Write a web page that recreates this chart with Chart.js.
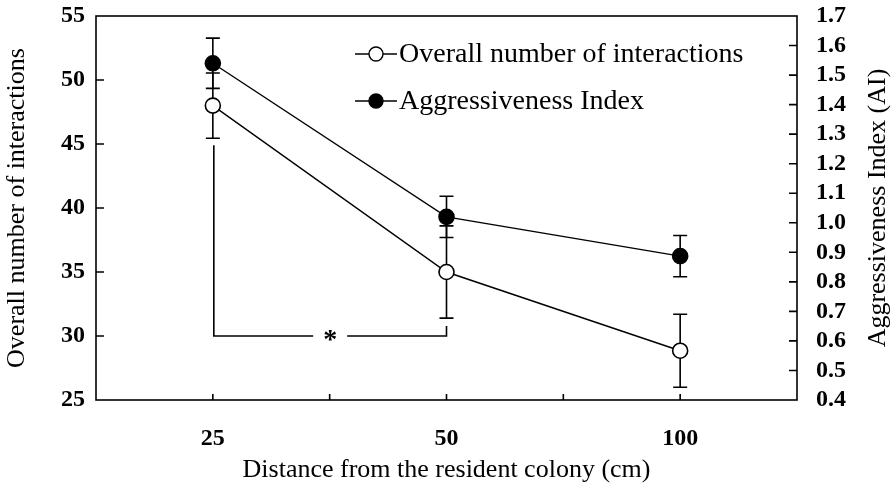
<!DOCTYPE html>
<html>
<head>
<meta charset="utf-8">
<script src="https://cdn.jsdelivr.net/npm/chart.js@4"></script>
<style>
  body { margin: 0; background: #fff; }
  #wrap { width: 896px; height: 487px; }
</style>
</head>
<body>
<div id="wrap"><canvas id="chart"></canvas></div>
<script>
// distance categories (cm)
const categories = ['25', '50', '100'];
// overall number of interactions (left axis), mean and error
const interactions = [48.0, 35.0, 28.85];
const interactionsErr = [2.55, 3.6, 2.85];
// aggressiveness index (right axis), mean and error
const aggression = [1.54, 1.02, 0.887];
const aggressionErr = [0.085, 0.07, 0.07];
// axis ranges
const leftRange = [25, 55, 5];
const rightRange = [0.4, 1.7, 0.1];
// significance bracket between 25 and 50, at this left-axis level
const sigPair = [0, 1];
const sigLevel = 30.0;
const sigLabel = '*';

const FONT = '"Liberation Serif", "Times New Roman", serif';

// category i sits at x = 2i+1 on a 0..6 axis
const toPoints = vals => vals.map((v, i) => ({ x: 2 * i + 1, y: v }));

const decor = {
  id: 'decor',
  beforeDatasetsDraw(chart) {
    const ctx = chart.ctx;
    const x = chart.scales.x;
    const sets = [
      [chart.scales.yL, interactions, interactionsErr],
      [chart.scales.yR, aggression, aggressionErr]
    ];
    ctx.save();
    ctx.strokeStyle = '#000';
    ctx.lineWidth = 1.6;
    sets.forEach(([ys, vals, errs]) => {
      vals.forEach((v, i) => {
        const px = x.getPixelForValue(2 * i + 1);
        const top = ys.getPixelForValue(v + errs[i]);
        const bot = ys.getPixelForValue(v - errs[i]);
        ctx.beginPath();
        ctx.moveTo(px, top); ctx.lineTo(px, bot);
        ctx.moveTo(px - 7, top); ctx.lineTo(px + 7, top);
        ctx.moveTo(px - 7, bot); ctx.lineTo(px + 7, bot);
        ctx.stroke();
      });
    });
    ctx.restore();
  },
  afterDatasetsDraw(chart) {
    const ctx = chart.ctx;
    const a = chart.chartArea;
    const x = chart.scales.x, yL = chart.scales.yL, yR = chart.scales.yR;
    ctx.save();
    ctx.strokeStyle = '#000';
    ctx.lineWidth = 1.6;
    // frame
    ctx.strokeRect(a.left, a.top, a.right - a.left, a.bottom - a.top);
    // inside tick marks
    ctx.beginPath();
    x.ticks.forEach(t => {
      if (t.value <= x.min || t.value >= x.max) return;
      const px = x.getPixelForValue(t.value);
      ctx.moveTo(px, a.bottom); ctx.lineTo(px, a.bottom - 6);
    });
    yL.ticks.forEach(t => {
      if (t.value <= yL.min || t.value >= yL.max) return;
      const py = yL.getPixelForValue(t.value);
      ctx.moveTo(a.left, py); ctx.lineTo(a.left + 8, py);
    });
    yR.ticks.forEach(t => {
      if (t.value <= yR.min + 1e-9 || t.value >= yR.max - 1e-9) return;
      const py = yR.getPixelForValue(t.value);
      ctx.moveTo(a.right, py); ctx.lineTo(a.right - 8, py);
    });
    ctx.stroke();

    // significance bracket
    const x1 = x.getPixelForValue(2 * sigPair[0] + 1) + 1;
    const x2 = x.getPixelForValue(2 * sigPair[1] + 1);
    const yb = yL.getPixelForValue(sigLevel);
    const y1 = yL.getPixelForValue(interactions[sigPair[0]] - interactionsErr[sigPair[0]]) + 7;
    const y2 = yL.getPixelForValue(interactions[sigPair[1]] - interactionsErr[sigPair[1]]) + 8;
    const xm = (x1 + x2) / 2;
    ctx.beginPath();
    ctx.moveTo(x1, y1); ctx.lineTo(x1, yb); ctx.lineTo(xm - 17, yb);
    ctx.moveTo(xm + 17, yb); ctx.lineTo(x2, yb); ctx.lineTo(x2, y2);
    ctx.stroke();
    ctx.fillStyle = '#000';
    ctx.font = 'bold 28px ' + FONT;
    ctx.textAlign = 'center';
    ctx.textBaseline = 'middle';
    ctx.fillText(sigLabel, xm, yb + 5);

    // legend
    ctx.font = '28px ' + FONT;
    ctx.textAlign = 'left';
    chart.data.datasets.forEach((ds, i) => {
      const ly = a.top + 38 + i * 47;
      const lx = a.left + 259;
      ctx.lineWidth = 1.4;
      ctx.beginPath();
      ctx.moveTo(lx, ly); ctx.lineTo(lx + 42, ly);
      ctx.stroke();
      ctx.beginPath();
      ctx.arc(lx + 21, ly, 7, 0, Math.PI * 2);
      ctx.fillStyle = ds.pointBackgroundColor;
      ctx.fill();
      ctx.stroke();
      ctx.fillStyle = '#000';
      ctx.fillText(ds.label, lx + 44, ly + 1);
    });

    // right axis title, reading bottom to top
    ctx.save();
    ctx.translate(878, (a.top + a.bottom) / 2);
    ctx.rotate(-Math.PI / 2);
    ctx.font = '26px ' + FONT;
    ctx.textAlign = 'center';
    ctx.fillText('Aggressiveness Index (AI)', 0, 0);
    ctx.restore();
    ctx.restore();
  }
};

const noPad = s => { s.paddingTop = 0; s.paddingBottom = 0; };

new Chart(document.getElementById('chart'), {
  type: 'line',
  data: {
    datasets: [
      {
        label: 'Overall number of interactions',
        data: toPoints(interactions),
        yAxisID: 'yL',
        borderColor: '#000',
        borderWidth: 1.4,
        pointBackgroundColor: '#fff',
        pointBorderColor: '#000',
        pointBorderWidth: 1.6,
        pointRadius: 7.5,
        tension: 0
      },
      {
        label: 'Aggressiveness Index',
        data: toPoints(aggression),
        yAxisID: 'yR',
        borderColor: '#000',
        borderWidth: 1.4,
        pointBackgroundColor: '#000',
        pointBorderColor: '#000',
        pointBorderWidth: 1.6,
        pointRadius: 7.5,
        tension: 0
      }
    ]
  },
  options: {
    responsive: true,
    maintainAspectRatio: false,
    animation: false,
    devicePixelRatio: 1,
    layout: { padding: { top: 16, left: 0, right: 0, bottom: 0 } },
    plugins: { legend: { display: false }, tooltip: { enabled: false } },
    scales: {
      x: {
        type: 'linear',
        min: 0,
        max: 6,
        grid: { display: false },
        border: { display: false },
        ticks: {
          stepSize: 1,
          padding: 16,
          autoSkip: false,
          maxRotation: 0,
          color: '#000',
          font: { family: FONT, size: 24, weight: 'bold' },
          callback: v => (v % 2 === 1 ? categories[(v - 1) / 2] : '')
        },
        title: {
          display: true,
          text: 'Distance from the resident colony (cm)',
          color: '#000',
          font: { family: FONT, size: 26 },
          padding: { top: 0, bottom: 1 }
        },
        afterFit: s => { s.height = 87; s.paddingLeft = 0; s.paddingRight = 0; }
      },
      yL: {
        position: 'left',
        min: leftRange[0],
        max: leftRange[1],
        grid: { display: false },
        border: { display: false },
        ticks: {
          stepSize: leftRange[2],
          padding: 3,
          autoSkip: false,
          color: '#000',
          font: { family: FONT, size: 24, weight: 'bold' }
        },
        title: {
          display: true,
          text: 'Overall number of interactions',
          color: '#000',
          font: { family: FONT, size: 26 },
          padding: { top: 2, bottom: 0 }
        },
        afterFit: s => { s.width = 96; noPad(s); }
      },
      yR: {
        position: 'right',
        min: rightRange[0],
        max: rightRange[1],
        grid: { display: false },
        border: { display: false },
        ticks: {
          stepSize: rightRange[2],
          padding: 11,
          autoSkip: false,
          color: '#000',
          font: { family: FONT, size: 24, weight: 'bold' },
          callback: v => v.toFixed(1)
        },
        afterFit: s => { s.width = 99; noPad(s); }
      }
    }
  },
  plugins: [decor]
});
</script>
</body>
</html>
